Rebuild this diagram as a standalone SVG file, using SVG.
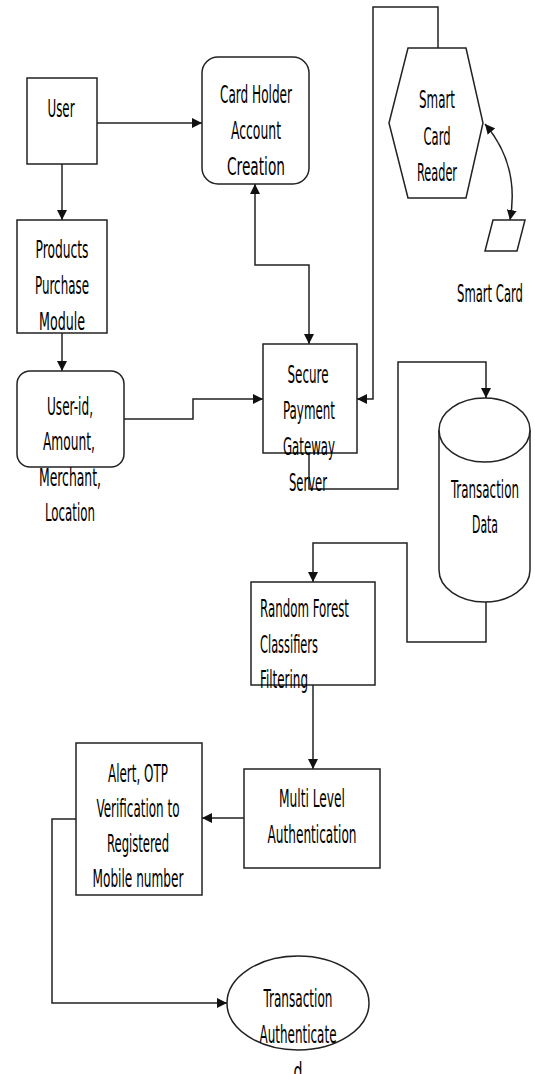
<svg xmlns="http://www.w3.org/2000/svg" width="535" height="1074" viewBox="0 0 535 1074">
<style>
.s{fill:#fff;stroke:#222;stroke-width:1.5}
.c{fill:none;stroke:#222;stroke-width:1.5}
text{font-family:"Liberation Sans Narrow","DejaVu Sans Condensed","Liberation Sans",sans-serif;font-size:24px;fill:#000;text-anchor:middle}
.l{text-anchor:start}
</style>
<defs>
<marker id="a" viewBox="0 0 10 10" refX="10" refY="5" markerWidth="10" markerHeight="10" markerUnits="userSpaceOnUse" orient="auto-start-reverse">
<path d="M0,0 L10,5 L0,10 Z" fill="#111"/>
</marker>
</defs>
<rect width="535" height="1074" fill="#fff"/>
<g id="connectors">
<path class="c" d="M97 123 H202" marker-end="url(#a)"/>
<path class="c" d="M62 164 V220" marker-end="url(#a)"/>
<path class="c" d="M62 333 V371" marker-end="url(#a)"/>
<path class="c" d="M124 419 H193 V399 H263" marker-end="url(#a)"/>
<path class="c" d="M255 184 V265 H309 V344" marker-start="url(#a)" marker-end="url(#a)"/>
<path class="c" d="M438 48 V7 H373 V399 H357" marker-end="url(#a)"/>
<path class="c" d="M485 124 Q520 165 510 220" marker-start="url(#a)" marker-end="url(#a)"/>
<path class="c" d="M309 453 V489 H398 V362 H486 V398" marker-end="url(#a)"/>
<path class="c" d="M486 602 V642 H407 V543 H313 V582" marker-end="url(#a)"/>
<path class="c" d="M313 685 V769" marker-end="url(#a)"/>
<path class="c" d="M244 818 H202" marker-end="url(#a)"/>
<path class="c" d="M76 819 H52 V1003 H227" marker-end="url(#a)"/>
</g>
<g id="user">
<rect class="s" x="27" y="78" width="70" height="86"/>
<text x="61" y="117" textLength="27" lengthAdjust="spacingAndGlyphs">User</text>
</g>
<g id="cardholder">
<rect class="s" x="202" y="57" width="107" height="127" rx="16"/>
<text x="256" y="103" textLength="72" lengthAdjust="spacingAndGlyphs">Card Holder</text>
<text x="256" y="139" textLength="50" lengthAdjust="spacingAndGlyphs">Account</text>
<text x="256" y="175" textLength="58" lengthAdjust="spacingAndGlyphs">Creation</text>
</g>
<g id="products">
<rect class="s" x="17" y="220" width="90" height="113"/>
<text x="62" y="258" textLength="53" lengthAdjust="spacingAndGlyphs">Products</text>
<text x="62" y="294" textLength="54" lengthAdjust="spacingAndGlyphs">Purchase</text>
<text x="62" y="330" textLength="46" lengthAdjust="spacingAndGlyphs">Module</text>
</g>
<g id="userid">
<rect class="s" x="17" y="371" width="107" height="96" rx="13"/>
<text x="70" y="415" textLength="46" lengthAdjust="spacingAndGlyphs">User-id,</text>
<text x="69" y="450" textLength="52" lengthAdjust="spacingAndGlyphs">Amount,</text>
<text x="70" y="486" textLength="62" lengthAdjust="spacingAndGlyphs">Merchant,</text>
<text x="70" y="521" textLength="50" lengthAdjust="spacingAndGlyphs">Location</text>
</g>
<g id="reader">
<polygon class="s" points="408,48 466,48 483,123 466,198 408,198 389,123"/>
<text x="437" y="108" textLength="36" lengthAdjust="spacingAndGlyphs">Smart</text>
<text x="437" y="145" textLength="27" lengthAdjust="spacingAndGlyphs">Card</text>
<text x="437" y="181" textLength="40" lengthAdjust="spacingAndGlyphs">Reader</text>
</g>
<g id="smartcard">
<polygon class="s" points="493,220 525,220 517,251 485,251"/>
<text x="490" y="302" textLength="66" lengthAdjust="spacingAndGlyphs">Smart Card</text>
</g>
<g id="gateway">
<rect class="s" x="263" y="344" width="94" height="109"/>
<text x="308" y="383" textLength="41" lengthAdjust="spacingAndGlyphs">Secure</text>
<text x="309" y="419" textLength="52" lengthAdjust="spacingAndGlyphs">Payment</text>
<text x="309" y="455" textLength="52" lengthAdjust="spacingAndGlyphs">Gateway</text>
<text x="308" y="491" textLength="38" lengthAdjust="spacingAndGlyphs">Server</text>
</g>
<g id="txdata">
<path class="s" d="M439 430 V570 A45.5 32 0 0 0 530 570 V430"/>
<ellipse class="s" cx="484.5" cy="430" rx="45.5" ry="32"/>
<text x="485" y="498" textLength="68" lengthAdjust="spacingAndGlyphs">Transaction</text>
<text x="485" y="533" textLength="26" lengthAdjust="spacingAndGlyphs">Data</text>
</g>
<g id="randomforest">
<rect class="s" x="251" y="582" width="124" height="103"/>
<text class="l" x="260" y="617" textLength="89" lengthAdjust="spacingAndGlyphs">Random Forest</text>
<text class="l" x="260" y="653" textLength="58" lengthAdjust="spacingAndGlyphs">Classifiers</text>
<text class="l" x="260" y="688" textLength="48" lengthAdjust="spacingAndGlyphs">Filtering</text>
</g>
<g id="multilevel">
<rect class="s" x="244" y="769" width="136" height="99"/>
<text x="312" y="807" textLength="66" lengthAdjust="spacingAndGlyphs">Multi Level</text>
<text x="312" y="843" textLength="89" lengthAdjust="spacingAndGlyphs">Authentication</text>
</g>
<g id="alert">
<rect class="s" x="76" y="743" width="126" height="152"/>
<text x="138" y="782" textLength="60" lengthAdjust="spacingAndGlyphs">Alert, OTP</text>
<text x="138" y="817" textLength="83" lengthAdjust="spacingAndGlyphs">Verification to</text>
<text x="138" y="852" textLength="62" lengthAdjust="spacingAndGlyphs">Registered</text>
<text x="138" y="887" textLength="91" lengthAdjust="spacingAndGlyphs">Mobile number</text>
</g>
<g id="authenticated">
<ellipse class="s" cx="298" cy="1003" rx="71" ry="47"/>
<text x="298" y="1007" textLength="69" lengthAdjust="spacingAndGlyphs">Transaction</text>
<text x="298" y="1043" textLength="77" lengthAdjust="spacingAndGlyphs">Authenticate</text>
<text x="298" y="1080" textLength="9" lengthAdjust="spacingAndGlyphs">d</text>
</g>
</svg>
